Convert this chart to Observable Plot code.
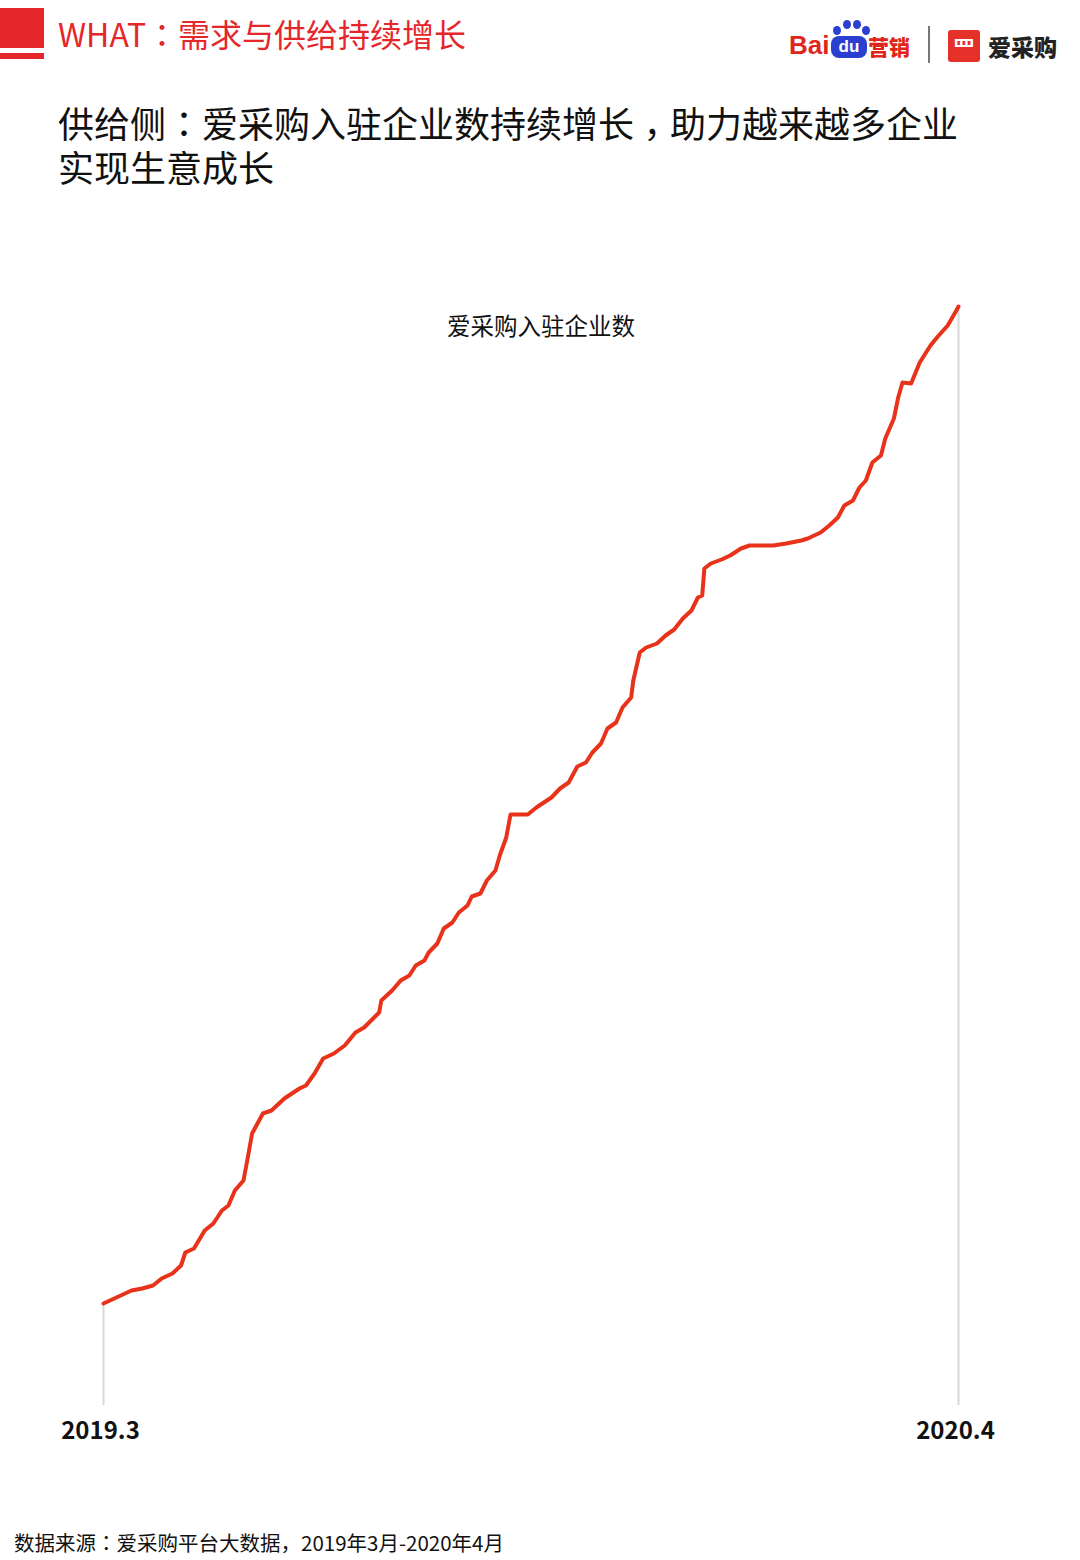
<!DOCTYPE html>
<html><head><meta charset="utf-8">
<script src="https://cdn.jsdelivr.net/npm/d3@7"></script>
<script src="https://cdn.jsdelivr.net/npm/@observablehq/plot@0.6"></script>
<style>
body{margin:0;background:#fff;font-family:"Noto Sans CJK SC","Noto Sans",sans-serif;}
#page{position:relative;width:1080px;height:1560px;overflow:hidden;background:#fff;}
.abs{position:absolute;white-space:nowrap;}
.p{font-family:"Noto Sans CJK TC","Noto Sans CJK SC",sans-serif;}
.c{font-family:"Noto Sans CJK TC","Noto Sans CJK SC",sans-serif;position:relative;top:0.28em;}
#redblock{left:0;top:8px;width:44px;height:40px;background:#e5262a;}
#redline{left:0;top:53px;width:44px;height:6px;background:#e5262a;}
#header{left:58px;top:13px;font-size:32px;line-height:40px;color:#e5262a;}
.title{left:58px;font-size:36px;line-height:40px;color:#111;font-family:"Liberation Sans","Noto Sans CJK SC",sans-serif;}
.title .p, .title .c{font-family:"Liberation Sans","Noto Sans CJK TC",sans-serif;}
#t1{top:106px;}
#t2{top:150px;}
#footer{left:14px;top:1528px;font-size:20.5px;line-height:28px;color:#111;}
#chart{left:0;top:280px;}
#bai{left:789px;top:27px;font-family:"Liberation Sans",Arial,sans-serif;font-weight:bold;font-size:26px;color:#e1251b;line-height:36px;}
#du{left:831px;top:36px;width:36px;height:22px;border-radius:8px;background:#2b3fd0;color:#fff;font-family:"Liberation Sans",Arial,sans-serif;font-weight:bold;font-size:17px;line-height:21px;text-align:center;}
.paw{position:absolute;width:8px;height:9px;border-radius:50%;background:#2b3fd0;}
#yx{left:868px;top:29px;font-weight:900;font-size:21px;color:#e1251b;line-height:34px;}
#sep{left:928px;top:26px;width:2px;height:37px;background:#777;}
#acgbox{left:948px;top:30px;width:32px;height:32px;border-radius:3px;background:#e5312a;color:#fff;font-size:22px;line-height:32px;text-align:center;font-weight:bold;}
#acg{left:988px;top:28px;font-weight:900;font-size:23px;color:#222;line-height:36px;}
</style></head><body><div id="page">
<div class="abs" id="redblock"></div>
<div class="abs" id="redline"></div>
<div class="abs" id="header">WHAT<span class="p">：</span>需求与供给持续增长</div>
<div class="abs" id="bai">Bai</div>
<div class="paw" style="left:833px;top:26px"></div>
<div class="paw" style="left:843px;top:20px"></div>
<div class="paw" style="left:853px;top:20px"></div>
<div class="paw" style="left:862px;top:26px"></div>
<div class="abs" id="du">du</div>
<div class="abs" id="yx">营销</div>
<div class="abs" id="sep"></div>
<div class="abs" id="acgbox">罒</div>
<div class="abs" id="acg">爱采购</div>
<div class="abs title" id="t1">供给侧<span class="p">：</span>爱采购入驻企业数持续增长<span class="c">，</span>助力越来越多企业</div>
<div class="abs title" id="t2">实现生意成长</div>
<div class="abs" id="chart"></div>
<div class="abs" id="footer">数据来源<span class="p">：</span>爱采购平台大数据，2019年3月-2020年4月</div>
</div>
<script>
// Days since 2019-03-01 and the count (estimated, relative units) of enterprises on 爱采购
const seriesName = "爱采购入驻企业数";
const days = [0,6,13,18,23,27,32,36,38,42,47,51,55,58,61,65,67,69,74,78,84,91,94,98,102,107,112,117,121,128,129,134,138,142,145,149,151,155,158,162,165,169,171,175,178,182,184,187,189,197,201,208,212,216,220,224,227,231,234,238,241,245,246,249,252,257,261,265,269,273,276,278,279,282,287,291,296,300,311,317,324,327,333,337,341,344,348,351,354,357,361,363,367,369,371,375,379,384,387,392,396,397];
const counts = [102,108,115,117,120,127,132,140,153,157,175,182,195,200,215,225,248,272,292,295,307,317,320,332,347,352,360,373,378,393,405,415,425,430,440,445,453,462,477,483,493,500,509,512,525,535,550,568,591,591,598,608,617,623,639,643,653,662,677,683,698,708,725,753,758,762,770,776,787,795,808,810,837,842,846,850,857,860,860,862,865,867,873,880,888,900,905,918,925,943,950,967,987,1008,1023,1022,1043,1060,1068,1080,1095,1099];
const tickDays = [0, 397];
const tickLabels = ["2019.3", "2020.4"];

const data = days.map((d, i) => ({day: d, count: counts[i]}));
const ticks = tickDays.map((d, i) => ({day: d, label: tickLabels[i]}));
const rules = [
  {day: tickDays[0], lo: 0, hi: counts[0]},
  {day: tickDays[1], lo: 0, hi: 1100}
];

const chart = Plot.plot({
  width: 1080,
  height: 1180,
  marginLeft: 103,
  marginRight: 122,
  marginTop: 25,
  marginBottom: 55,
  style: {fontFamily: '"Noto Sans CJK SC", sans-serif', background: "transparent"},
  x: {domain: [0, 397], axis: null},
  y: {domain: [0, 1100], axis: null},
  marks: [
    Plot.ruleX(rules, {x: "day", y1: "lo", y2: "hi", stroke: "#d9d9d9", strokeWidth: 2}),
    Plot.line(data, {x: "day", y: "count", stroke: "#e8321a", strokeWidth: 4, strokeLinejoin: "round"}),
    Plot.text(ticks, {x: "day", y: 0, text: "label", dy: 26, dx: -3, fontSize: 24, fontWeight: "bold", fill: "#111"}),
    Plot.text([seriesName], {frameAnchor: "top", dx: 10, dy: 13, fontSize: 23.5, fill: "#111"})
  ]
});
document.getElementById("chart").appendChild(chart);
</script>
</body></html>
